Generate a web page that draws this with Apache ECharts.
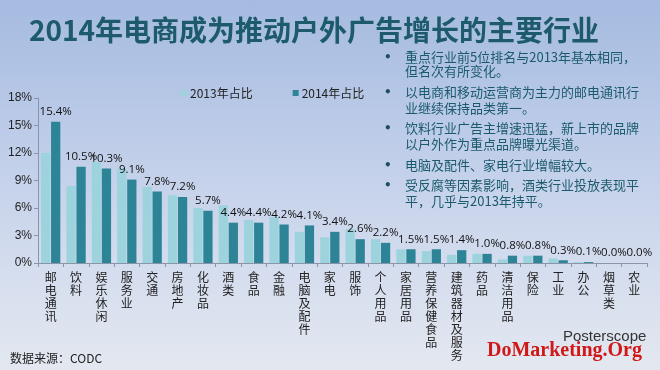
<!DOCTYPE html>
<html><head><meta charset="utf-8">
<script src="https://cdn.jsdelivr.net/npm/echarts@6/dist/echarts.min.js"></script>
<style>
html,body{margin:0;padding:0;}
#c{width:660px;height:370px;background:linear-gradient(180deg,#a5bbe0 0%,#bccbe8 35%,#d3dcee 70%,#e3e8f0 100%);}
</style></head>
<body><div id="c"></div>
<script>
const titleText = '2014年电商成为推动户外广告增长的主要行业';
const categories = ['邮电通讯','饮料','娱乐休闲','服务业','交通','房地产','化妆品','酒类','食品','金融','电脑及配件','家电','服饰','个人用品','家居用品','营养保健食品','建筑器材及服务','药品','清洁用品','保险','工业','办公','烟草类','农业'];
const seriesNames = ['2013年占比','2014年占比'];
const share2013 = [12.0,8.4,11.0,10.3,8.3,7.4,6.0,6.3,4.7,5.0,3.4,2.8,3.7,2.6,1.5,1.3,0.9,1.0,0.4,0.8,0.5,0.1,0.0,0.0];
const share2014 = [15.4,10.5,10.3,9.1,7.8,7.2,5.7,4.4,4.4,4.2,4.1,3.4,2.6,2.2,1.5,1.5,1.4,1.0,0.8,0.8,0.3,0.1,0.0,0.0];
const yMin = 0, yMax = 18, yStep = 3;
const bullets = [
  ['重点行业前5位排名与2013年基本相同，','但名次有所变化。'],
  ['以电商和移动运营商为主力的邮电通讯行','业继续保持品类第一。'],
  ['饮料行业广告主增速迅猛，新上市的品牌','以户外作为重点品牌曝光渠道。'],
  ['电脑及配件、家电行业增幅较大。'],
  ['受反腐等因素影响，酒类行业投放表现平','平，几乎与2013年持平。']
];
const sourceText = '数据来源：CODC';

const CJK = '"Noto Sans CJK SC","Noto Sans",sans-serif';
const lineYs = [[60,74],[95,111],[131,147],[168],[188,204]];
const graphics = [];
bullets.forEach((b, i) => {
  graphics.push({type:'text', left:384, top:lineYs[i][0]-8, style:{text:'•', font:'bold 12px "DejaVu Sans"', fill:'#1f4e5e'}});
  b.forEach((line, j) => {
    graphics.push({type:'text', left:405, top:lineYs[i][j]-9, style:{text:line, font:'13px ' + CJK, fill:'#1b5a6c'}});
  });
});
graphics.push({type:'text', left:10, top:352, style:{text:sourceText, font:'12px ' + CJK, fill:'#222'}});
graphics.push({type:'text', left:563, top:329, style:{text:'Posterscope', font:'15px "Liberation Sans",Arial,sans-serif', fill:'#333'}});
graphics.push({type:'text', left:487, top:341, style:{text:'DoMarketing.Org', font:'bold 20px "Liberation Serif","DejaVu Serif",serif', fill:'#d01818'}});

const chart = echarts.init(document.getElementById('c'));
chart.setOption({
  animation:false,
  title:{text:titleText, left:24, top:11, textStyle:{fontSize:28, fontWeight:'bold', color:'#1d5a6b', fontFamily:CJK}},
  legend:{data:seriesNames, left:176, top:82, itemWidth:6, itemHeight:6, itemGap:40, icon:'rect',
    textStyle:{fontSize:12, color:'#222', fontFamily:CJK, padding:[0,0,0,-2]}},
  grid:{left:38, right:13, top:98, bottom:107, containLabel:false},
  xAxis:{type:'category', data:categories,
    axisLine:{lineStyle:{color:'#8a96a8'}},
    axisTick:{show:true, interval:0, length:4, lineStyle:{color:'#8a96a8'}},
    axisLabel:{interval:0, margin:8, fontSize:12, lineHeight:13, color:'#222', fontFamily:CJK,
      formatter:v => v.split('').join('\n')}},
  yAxis:{type:'value', min:yMin, max:yMax, interval:yStep,
    axisLine:{show:true, lineStyle:{color:'#8a96a8'}},
    axisTick:{show:true, length:4, lineStyle:{color:'#8a96a8'}},
    splitLine:{show:false},
    axisLabel:{formatter:v => v + '%', fontSize:12, color:'#222', margin:6, fontFamily:'"Liberation Sans",Arial,sans-serif'}},
  series:[
    {name:seriesNames[0], type:'bar', data:share2013, barGap:'8%', barCategoryGap:'24%',
      itemStyle:{color:'#9dd3dc'}},
    {name:seriesNames[1], type:'bar', data:share2014,
      itemStyle:{color:'#2e8497'},
      label:{show:true, position:'top', distance:4, fontSize:11.5, color:'#111',
        fontFamily:'"Open Sans","Liberation Sans",sans-serif',
        formatter:p => p.value.toFixed(1) + '%'}}
  ],
  graphic:graphics
});
</script></body></html>
